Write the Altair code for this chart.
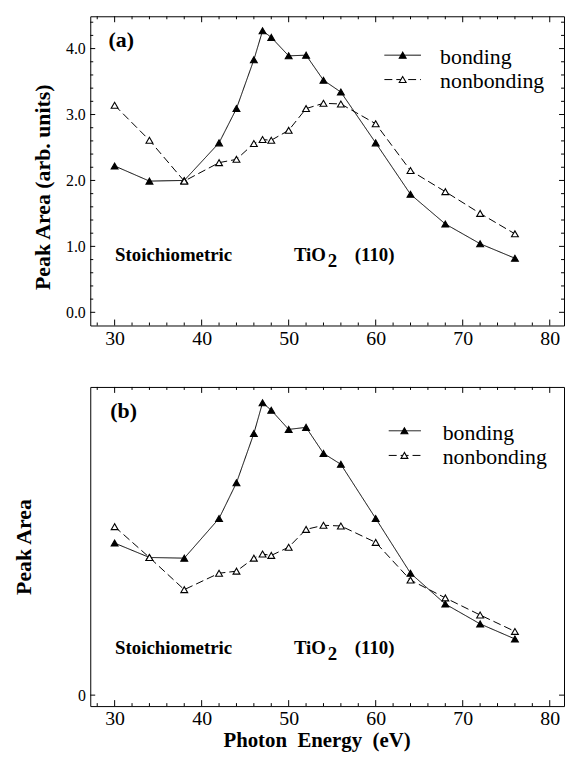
import altair as alt
import pandas as pd

# ---------------- data ----------------
energy = [30, 34, 38, 42, 44, 46, 47, 48, 50, 52, 54, 56, 60, 64, 68, 72, 76]
bonding_a = [2.22, 1.99, 2.00, 2.57, 3.09, 3.83, 4.27, 4.17, 3.89, 3.90, 3.52, 3.34, 2.57, 1.79, 1.34, 1.04, 0.82]
nonbonding_a = [3.14, 2.61, 1.99, 2.27, 2.32, 2.56, 2.62, 2.61, 2.76, 3.09, 3.17, 3.16, 2.86, 2.15, 1.83, 1.50, 1.19]
bonding_b = [2.22, 2.01, 2.00, 2.58, 3.10, 3.82, 4.27, 4.16, 3.88, 3.91, 3.53, 3.37, 2.58, 1.78, 1.33, 1.04, 0.82]
nonbonding_b = [2.46, 2.01, 1.54, 1.78, 1.81, 2.00, 2.06, 2.04, 2.16, 2.42, 2.48, 2.47, 2.23, 1.68, 1.42, 1.17, 0.93]

series_names = ["bonding", "nonbonding"]
x_labels = [30, 40, 50, 60, 70, 80]
x_minor = [28, 32, 34, 36, 38, 42, 44, 46, 48, 52, 54, 56, 58, 62, 64, 66, 68, 72, 74, 76, 78]
ya_labels = [0, 1, 2, 3, 4]
ya_minor = [0.2, 0.4, 0.6, 0.8, 1.2, 1.4, 1.6, 1.8, 2.2, 2.4, 2.6, 2.8, 3.2, 3.4, 3.6, 3.8, 4.2, 4.4]
yb_labels = [0]
yb_minor = []

x_domain = [27.2, 81.64]
ya_domain = [-0.2, 4.49]
yb_domain = [-0.16, 4.50]

# annotation anchors (data coordinates)
tag_a = {"x": [29.3], "y": [4.02], "t": ["(a)"]}
tag_b = {"x": [29.5], "y": [4.04], "t": ["(b)"]}
stoich_a = {"x": [30.05, 50.6, 57.6], "y": [0.78, 0.78, 0.78], "t": ["Stoichiometric", "TiO", "(110)"]}
sub_a = {"x": [54.5], "y": [0.69], "t": ["2"]}
stoich_b = {"x": [30.05, 50.6, 57.6], "y": [0.60, 0.60, 0.60], "t": ["Stoichiometric", "TiO", "(110)"]}
sub_b = {"x": [54.5], "y": [0.52], "t": ["2"]}
legend_a = {"x1": [61.0, 61.0], "x2": [65.2, 65.2], "xm": [63.1, 63.1], "xt": [67.4, 67.4], "y": [3.90, 3.53]}
legend_b = {"x1": [61.5, 61.5], "x2": [65.2, 65.2], "xm": [63.3, 63.3], "xt": [67.7, 67.7], "y": [3.86, 3.50]}

SERIF = "Liberation Serif"
W = 478


def panel(bond, nonb, ydom, H, ylab, ymin, yfmt, tag, stoich, sub, leg, ytitle, ytx, yty, xtitle):
    n = len(energy)
    df = pd.DataFrame({"energy": energy * 2, "area": bond + nonb,
                       "series": [series_names[0]] * n + [series_names[1]] * n})
    xs = alt.Scale(domain=x_domain, nice=False, zero=False)
    ys = alt.Scale(domain=ydom, nice=False, zero=False)

    xaxis_kw = dict(values=x_labels, format="d", labelFont=SERIF, labelFontSize=20,
                    labelPadding=3, ticks=False, domain=False, grid=False, labelColor="black",
                    labelFlush=False)
    if xtitle:
        xaxis_kw.update(title=xtitle, titleFont=SERIF, titleFontSize=21, titleFontWeight="bold",
                        titleX=(53.2 - x_domain[0]) * W / (x_domain[1] - x_domain[0]), titleY=45,
                        titleBaseline="bottom", titleAlign="center", titleColor="black")
    else:
        xaxis_kw.update(title=None)
    xaxis = alt.Axis(**xaxis_kw)
    yaxis = alt.Axis(values=ylab, format=yfmt, labelFont=SERIF, labelFontSize=16, labelPadding=5,
                     ticks=False, domain=False, grid=False, labelColor="black", labelFlush=False,
                     title=ytitle, titleFont=SERIF, titleFontSize=22, titleFontWeight="bold",
                     titleAngle=270, titleBaseline="middle", titleAlign="center",
                     titleX=ytx, titleY=yty, titleColor="black")

    def X(f):
        return alt.X(f, type="quantitative", scale=xs, axis=xaxis)

    def Y(f):
        return alt.Y(f, type="quantitative", scale=ys, axis=yaxis)

    dash = alt.StrokeDash("series:N", scale=alt.Scale(domain=series_names, range=[[1, 0], [8, 4]]),
                          legend=None)
    fill = alt.Fill("series:N", scale=alt.Scale(domain=series_names, range=["black", "white"]),
                    legend=None)

    lines = alt.Chart(df).mark_line(color="black", strokeWidth=1).encode(
        x=X("energy"), y=Y("area"), strokeDash=dash, detail="series:N",
    )
    pts = alt.Chart(df).mark_point(shape="triangle-up", size=48, filled=True, stroke="black",
                                   strokeWidth=1.1, opacity=1).encode(
        x=X("energy"), y=Y("area"), fill=fill,
    )

    # inward ticks on all four sides
    def xt(vals, length, top):
        d = pd.DataFrame({"v": vals})
        if top:
            return alt.Chart(d).mark_rule(color="black", strokeWidth=1).encode(
                x=X("v"), y=alt.value(0), y2=alt.value(length))
        return alt.Chart(d).mark_rule(color="black", strokeWidth=1).encode(
            x=X("v"), y=alt.value(H), y2=alt.value(H - length))

    def yt(vals, length, right):
        d = pd.DataFrame({"v": vals})
        if right:
            return alt.Chart(d).mark_rule(color="black", strokeWidth=1).encode(
                y=Y("v"), x=alt.value(W), x2=alt.value(W - length))
        return alt.Chart(d).mark_rule(color="black", strokeWidth=1).encode(
            y=Y("v"), x=alt.value(0), x2=alt.value(length))

    ticks = [xt(x_labels, 6, False), xt(x_minor, 3, False), xt(x_labels, 6, True), xt(x_minor, 3, True),
             yt(ylab, 5, False), yt(ylab, 5, True)]
    if ymin:
        ticks += [yt(ymin, 3, False), yt(ymin, 3, True)]

    def txt(d, size, weight, clip=False):
        dd = pd.DataFrame(d)
        return alt.Chart(dd).mark_text(align="left", baseline="alphabetic", font=SERIF, fontSize=size,
                                       fontWeight=weight, color="black", clip=clip).encode(
            x=X("x"), y=Y("y"), text="t:N")

    tag_l = txt(tag, 22, "bold")
    st_l = txt(stoich, 19, "bold")
    sub_l = txt(sub, 19, "bold")

    ldf = pd.DataFrame({"x1": leg["x1"], "x2": leg["x2"], "xm": leg["xm"], "xt": leg["xt"],
                        "y": leg["y"], "series": series_names})
    leg_line = alt.Chart(ldf).mark_rule(color="black", strokeWidth=1).encode(
        x=X("x1"), x2="x2:Q", y=Y("y"), strokeDash=dash)
    leg_pt = alt.Chart(ldf).mark_point(shape="triangle-up", size=48, filled=True, stroke="black",
                                       strokeWidth=1.1, opacity=1).encode(
        x=X("xm"), y=Y("y"), fill=fill)
    leg_txt = alt.Chart(ldf).mark_text(align="left", baseline="middle", font=SERIF, fontSize=22,
                                       color="black", clip=True, dy=2).encode(
        x=X("xt"), y=Y("y"), text="series:N")

    return alt.layer(lines, *ticks, pts, tag_l, st_l, sub_l, leg_line, leg_pt, leg_txt).properties(
        width=W, height=H)


pa = panel(bonding_a, nonbonding_a, ya_domain, 312, ya_labels, ya_minor, ".1f", tag_a, stoich_a, sub_a,
           legend_a, "Peak Area (arb. units)", -48.5, 172, None)
pb = panel(bonding_b, nonbonding_b, yb_domain, 322, yb_labels, yb_minor, "d", tag_b, stoich_b, sub_b,
           legend_b, "Peak Area", -67, 161, "Photon\u00a0\u00a0Energy\u00a0\u00a0(eV)")

chart = alt.vconcat(pa, pb, spacing=62, bounds="flush").properties(
    padding={"left": 4, "top": 4, "right": 0, "bottom": 0},
    background="white",
).configure_view(stroke="black", strokeWidth=1)

chart.save("out.html", embed_options={"renderer": "svg", "actions": False})
